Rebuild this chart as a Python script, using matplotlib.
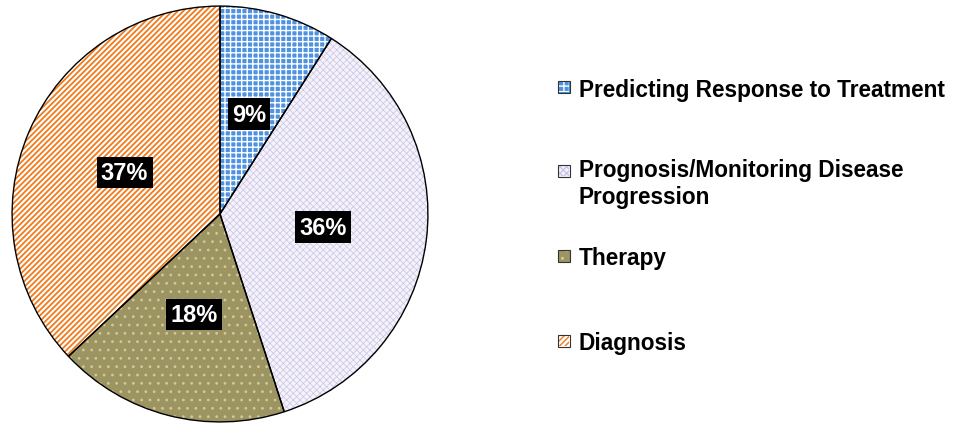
import matplotlib
matplotlib.use("Agg")
import matplotlib.pyplot as plt
from matplotlib.patches import Rectangle

plt.rcParams['font.family'] = ['Liberation Sans', 'DejaVu Sans']

labels = ["Predicting Response to Treatment",
          "Prognosis/Monitoring Disease\nProgression",
          "Therapy",
          "Diagnosis"]
shares = [9, 36, 18, 37]

faces = ["#4f93e0", "#f5f3fa", "#9c9461", "#ffffff"]
hatch_cols = ["#ffffff", "#cbc3e6", "#cfc9a0", "#f07b1c"]
hatches = ["+++", "xxxxx", "..", "//////"]
hatch_lw = [1.0, 0.5, 0.8, 1.3]

fig = plt.figure(figsize=(9.54, 4.27), dpi=100)
ax = fig.add_axes([10 / 954, 2 / 427, 420 / 954, 420 / 427])

# pattern layer (hatch takes the edge colour)
wedges, _ = ax.pie(shares, startangle=90, counterclock=False, radius=1,
                   colors=faces, wedgeprops=dict(linewidth=0))
for w, hc, h, lw in zip(wedges, hatch_cols, hatches, hatch_lw):
    w.set_edgecolor(hc)
    w.set_hatch(h)
    if hasattr(w, "set_hatch_linewidth"):
        w.set_hatch_linewidth(lw)

# outline layer
outl, _, autot = ax.pie(shares, startangle=90, counterclock=False, radius=1,
                        autopct="%d%%", pctdistance=0.5,
                        wedgeprops=dict(fill=False, edgecolor="black", linewidth=1))
for t in autot:
    t.set_color("white")
    t.set_fontsize(17)
    t.set_fontweight("bold")
    t.set_bbox(dict(boxstyle="square,pad=0.18", facecolor="black", edgecolor="none"))

ax.set_xlim(-1.01, 1.01)
ax.set_ylim(-1.01, 1.01)
ax.set_aspect("equal")
ax.axis("off")

# legend drawn by hand to keep the uneven spacing
leg_y = [88, 172, 257, 342]
for lab, y, fc, hc, h in zip(labels, leg_y, faces, hatch_cols, hatches):
    fy = (427 - y) / 427
    sq = Rectangle((558 / 954, fy - 6 / 427), 12 / 954, 12 / 427,
                   transform=fig.transFigure, facecolor=fc, edgecolor="#333333",
                   linewidth=0.8)
    fig.patches.append(sq)
    inner = Rectangle((559 / 954, fy - 5 / 427), 10 / 954, 10 / 427,
                      transform=fig.transFigure, facecolor="none", edgecolor=hc,
                      linewidth=0, hatch=h)
    fig.patches.append(inner)
    if "\n" in lab:
        fig.text(579 / 954, fy + 13 / 427, lab, fontsize=16.3, fontweight="bold",
                 va="top", ha="left", color="black")
    else:
        fig.text(579 / 954, fy - 2 / 427, lab, fontsize=16.3, fontweight="bold",
                 va="center", ha="left", color="black")

fig.savefig("out.png", dpi=100)
